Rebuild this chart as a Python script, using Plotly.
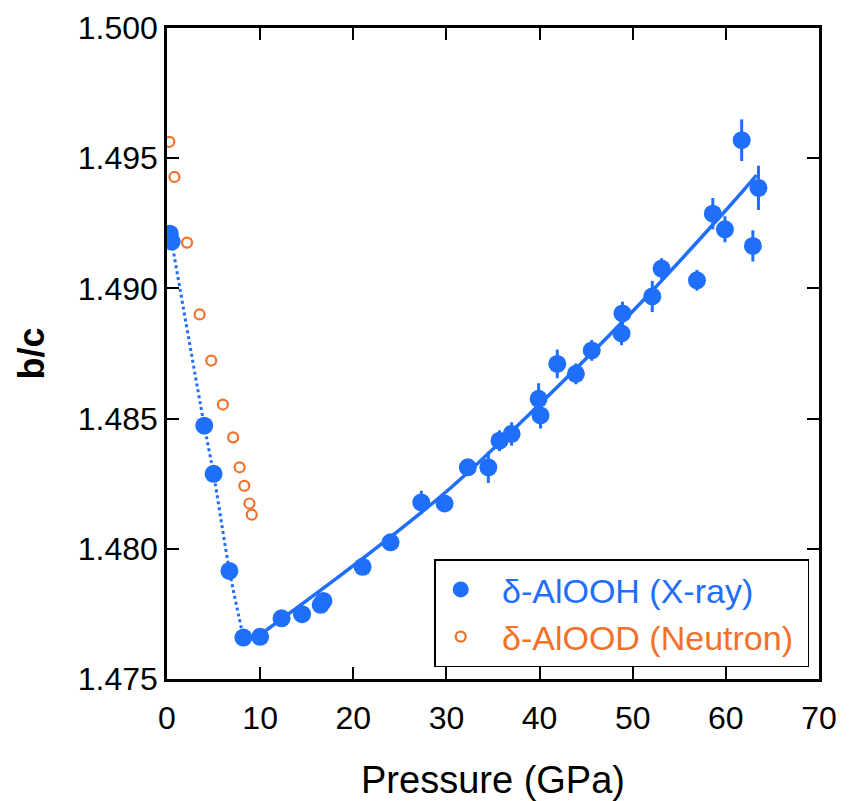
import plotly.graph_objects as go

# delta-AlOOH, synchrotron X-ray diffraction
xray_p = [0.3, 0.5, 4.0, 5.0, 6.7, 8.2, 10.0, 12.3, 14.5, 16.5, 16.8, 21.0, 24.0,
          27.3, 29.8, 32.3, 34.5, 35.7, 37.0, 39.9, 40.1, 41.9, 43.9, 45.6,
          48.8, 48.9, 52.1, 53.1, 56.9, 58.6, 59.9, 61.7, 62.9, 63.5]
xray_bc = [1.4921, 1.4918, 1.48473, 1.48288, 1.47915, 1.47659, 1.47662, 1.47733,
           1.47749, 1.47785, 1.47800, 1.47931, 1.48025,
           1.48178, 1.48174, 1.48313, 1.48313, 1.48415, 1.48441, 1.48576, 1.48512,
           1.48710, 1.48672, 1.48762, 1.48827, 1.48904, 1.48969, 1.49076, 1.49031,
           1.49287, 1.49227, 1.49569, 1.49163, 1.49386]
xray_err = [0.0002, 0.0002, 0.0002, 0.0002, 0.0002, 0.0002, 0.0002, 0.0002,
            0.0002, 0.0002, 0.0002, 0.0002, 0.0002,
            0.00045, 0.0003, 0.0003, 0.0006, 0.0004, 0.00045, 0.0006, 0.0005,
            0.00055, 0.0004, 0.0004, 0.00045, 0.00045, 0.0006, 0.0004, 0.0004,
            0.0006, 0.0005, 0.0008, 0.0006, 0.00085]

# delta-AlOOD, neutron diffraction
neut_p = [0.25, 0.8, 2.15, 3.5, 4.75, 6.0, 7.1, 7.8, 8.3, 8.85, 9.1]
neut_bc = [1.49563, 1.49428, 1.49176, 1.48900, 1.48723, 1.48554, 1.48428,
           1.48313, 1.48242, 1.48174, 1.48131]

# high-pressure fit curve
fit_p = [10.0, 20.0, 30.0, 40.0, 50.0, 60.0, 63.3]
fit_bc = [1.4767, 1.47935, 1.48220, 1.48555, 1.48912, 1.49300, 1.49435]

BLUE = "#1f6efc"
ORANGE = "#f2712a"
FONT = "Arial, Liberation Sans, sans-serif"
LEAD = "\u00a0\u2009"  # room between legend symbol and label
TAIL = "\u00a0"        # room after the label

fig = go.Figure()

# dotted guide through the low-pressure X-ray points
fig.add_trace(go.Scatter(
    x=xray_p[1:6], y=xray_bc[1:6], mode="lines",
    line=dict(color=BLUE, width=3, dash="dot", shape="spline", smoothing=0.6),
    showlegend=False, hoverinfo="skip"))

fig.add_trace(go.Scatter(
    x=fit_p, y=fit_bc, mode="lines",
    line=dict(color=BLUE, width=3.5, shape="spline"),
    showlegend=False, hoverinfo="skip"))

fig.add_trace(go.Scatter(
    x=xray_p, y=xray_bc, mode="markers",
    marker=dict(symbol="circle", size=18, color=BLUE),
    error_y=dict(type="data", array=xray_err, color=BLUE, thickness=3, width=0),
    showlegend=False))

fig.add_trace(go.Scatter(
    x=neut_p, y=neut_bc, mode="markers",
    marker=dict(symbol="circle-open", size=10, color=ORANGE, line=dict(width=2.2, color=ORANGE)),
    showlegend=False))

# legend entries
fig.add_trace(go.Scatter(
    x=[None], y=[None], mode="markers",
    marker=dict(symbol="circle", size=18, color=BLUE),
    name=f"<span style='color:{BLUE}'>{LEAD}δ-AlOOH (X-ray)</span>"))
fig.add_trace(go.Scatter(
    x=[None], y=[None], mode="markers",
    marker=dict(symbol="circle-open", size=10, color=ORANGE, line=dict(width=2.2, color=ORANGE)),
    name=f"<span style='color:{ORANGE}'>{LEAD}δ-AlOOD (Neutron){TAIL}</span>"))

axis_common = dict(
    showline=True, linecolor="black", linewidth=2.5, mirror="allticks",
    ticks="inside", ticklen=12, tickwidth=2, tickcolor="black",
    showgrid=False, zeroline=False, automargin=False,
    tickfont=dict(family=FONT, size=32, color="black"),
)

fig.update_xaxes(range=[0, 70], dtick=10, tick0=0, ticklabelstandoff=9,
                 title=dict(text="Pressure (GPa)", font=dict(family=FONT, size=38, color="black"),
                            standoff=38),
                 **axis_common)
fig.update_yaxes(range=[1.475, 1.500], dtick=0.005, tick0=1.475, tickformat=".3f",
                 title=dict(text="<b>b/c</b>", font=dict(family=FONT, size=36, color="black"),
                            standoff=23),
                 **axis_common)

fig.update_layout(
    width=854, height=801,
    margin=dict(l=167, r=35, t=28, b=122),
    plot_bgcolor="white", paper_bgcolor="white",
    font=dict(family=FONT),
    legend=dict(
        x=0.985, y=0.018, xanchor="right", yanchor="bottom",
        bordercolor="black", borderwidth=1.5, bgcolor="white",
        font=dict(family=FONT, size=34),
        itemsizing="trace", itemwidth=40, tracegroupgap=0,
    ),
)

fig.write_html("out.html")
